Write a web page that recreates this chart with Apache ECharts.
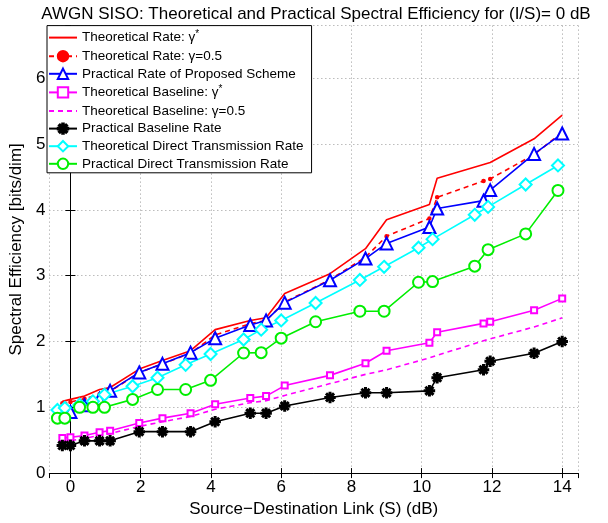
<!DOCTYPE html>
<html>
<head>
<meta charset="utf-8">
<script src="https://cdn.jsdelivr.net/npm/echarts@6/dist/echarts.min.js"></script>
<style>
  body { margin: 0; background: #fff; }
  #chart { width: 608px; height: 523px; }
</style>
</head>
<body>
<div id="chart"></div>
<script>
// S (dB) for the relay / baseline curves and for the direct-transmission curves
var snrRelay  = [-0.23, 0, 0.4, 0.83, 1.13, 1.96, 2.62, 3.42, 4.12, 5.12, 5.57, 6.1, 7.39, 8.4, 9.0, 10.22, 10.44, 11.76, 11.95, 13.2, 14.0];
var snrDirect = [-0.37, -0.16, 0.26, 0.64, 0.97, 1.77, 2.48, 3.28, 3.99, 4.93, 5.43, 6.0, 6.98, 8.24, 8.93, 9.91, 10.31, 11.51, 11.89, 12.96, 13.88];

var theoRateOpt  = [1.09, 1.12, 1.17, 1.27, 1.30, 1.58, 1.71, 1.86, 2.18, 2.32, 2.36, 2.73, 3.03, 3.41, 3.85, 4.08, 4.48, 4.69, 4.72, 5.08, 5.44];
var theoRateHalf = [1.06, 1.08, 1.13, 1.20, 1.24, 1.53, 1.66, 1.82, 2.10, 2.27, 2.32, 2.60, 2.94, 3.28, 3.60, 3.87, 4.19, 4.44, 4.47, 4.84, 5.18];
var practRate    = [0.88, 0.93, 1.03, 1.13, 1.25, 1.53, 1.66, 1.83, 2.05, 2.25, 2.32, 2.59, 2.93, 3.26, 3.49, 3.74, 4.02, 4.14, 4.30, 4.85, 5.16];
var theoBaseOpt  = [0.535, 0.545, 0.57, 0.62, 0.645, 0.76, 0.835, 0.91, 1.045, 1.14, 1.17, 1.33, 1.485, 1.67, 1.86, 1.98, 2.14, 2.275, 2.30, 2.475, 2.655];
var theoBaseHalf = [0.47, 0.49, 0.53, 0.57, 0.60, 0.71, 0.78, 0.86, 0.97, 1.07, 1.10, 1.18, 1.36, 1.50, 1.57, 1.75, 1.79, 2.01, 2.04, 2.22, 2.36];
var practBase    = [0.42, 0.42, 0.49, 0.49, 0.49, 0.63, 0.63, 0.63, 0.78, 0.91, 0.91, 1.02, 1.15, 1.22, 1.22, 1.25, 1.45, 1.57, 1.70, 1.82, 2.00];
var theoDirect   = [0.96, 0.99, 1.04, 1.09, 1.19, 1.32, 1.45, 1.645, 1.81, 2.03, 2.18, 2.32, 2.585, 2.935, 3.135, 3.425, 3.555, 3.925, 4.045, 4.385, 4.675];
var practDirect  = [0.835, 0.835, 1.0, 1.0, 1.0, 1.12, 1.27, 1.27, 1.41, 1.825, 1.83, 2.05, 2.3, 2.46, 2.46, 2.9, 2.91, 3.145, 3.395, 3.635, 4.295];

var yTicks = [0, 1, 2, 3, 4, 5, 6];

var font = "'Liberation Sans', Arial, Helvetica, sans-serif";
// matlab style '*' marker
var asterisk = 'path://M0 8.5L20 8.5L20 11.5L0 11.5Z M8.5 0L11.5 0L11.5 20L8.5 20Z ' +
  'M1.94 4.06L4.06 1.94L18.06 15.94L15.94 18.06Z M15.94 1.94L18.06 4.06L4.06 18.06L1.94 15.94Z';

function zip(xs, ys) {
  return xs.map(function (x, i) { return [x, ys[i]]; });
}

function line(name, xs, ys, color, symbol, size, dashed) {
  return {
    name: name,
    type: 'line',
    data: zip(xs, ys),
    symbol: symbol,
    symbolSize: size,
    showSymbol: symbol !== 'none',
    lineStyle: { color: color, width: 1.6, type: dashed ? [5, 4] : 'solid' },
    itemStyle: { color: color, borderColor: color, borderWidth: 1.5 },
    emphasis: { disabled: true }
  };
}

var series = [
  line('Theoretical Rate: γ*', snrRelay, theoRateOpt, '#ff0000', 'none', 0, false),
  line('Theoretical Rate: γ=0.5', snrRelay, theoRateHalf, '#ff0000', 'circle', 3, true),
  line('Practical Rate of Proposed Scheme', snrRelay, practRate, '#0000ff', 'emptyTriangle', 12, false),
  line('Theoretical Baseline: γ*', snrRelay, theoBaseOpt, '#ff00ff', 'emptyRect', 6, false),
  line('Theoretical Baseline: γ=0.5', snrRelay, theoBaseHalf, '#ff00ff', 'none', 0, true),
  line('Practical Baseline Rate', snrRelay, practBase, '#000000', asterisk, 10, false),
  line('Theoretical Direct Transmission Rate', snrDirect, theoDirect, '#00ffff', 'emptyDiamond', 12, false),
  line('Practical Direct Transmission Rate', snrDirect, practDirect, '#00ee00', 'emptyCircle', 11, false)
];

// legend entries: hide the marker for the plain-line series
var legendData = series.map(function (s) {
  var item = { name: s.name };
  if (s.symbol === 'none') {
    item.itemStyle = { color: 'rgba(0,0,0,0)', borderColor: 'rgba(0,0,0,0)', borderWidth: 0, opacity: 0 };
  }
  return item;
});

var chart = echarts.init(document.getElementById('chart'));

chart.setOption({
  animation: false,
  textStyle: { fontFamily: font },
  title: {
    text: 'AWGN SISO: Theoretical and Practical Spectral Efficiency for (I/S)= 0 dB',
    left: 311,
    textAlign: 'center',
    top: 1,
    textStyle: { fontSize: 17, fontWeight: 'normal', color: '#000', fontFamily: font }
  },
  grid: { left: 46, right: 30, top: 25.6, bottom: 44, containLabel: false },
  legend: {
    data: legendData,
    orient: 'vertical',
    left: 47,
    top: 25.6,
    itemWidth: 28,
    itemHeight: 13,
    itemGap: 3.6,
    padding: [4, 8, 2, 1],
    backgroundColor: '#fff',
    borderColor: '#000',
    borderWidth: 1,
    borderRadius: 0,
    z: 10,
    formatter: function (name) {
      if (name.slice(-2) === 'γ*') {
        return '{a|' + name.slice(0, -1) + '}{s|*}';
      }
      return '{a|' + name + '}';
    },
    textStyle: {
      fontFamily: font,
      color: '#000',
      rich: {
        a: { fontSize: 13.5, lineHeight: 15, fontFamily: font, color: '#000' },
        s: { fontSize: 10, lineHeight: 15, padding: [0, 0, 6, 0], fontFamily: font, color: '#000' }
      }
    }
  },
  xAxis: [{
    type: 'value',
    min: -0.6,
    max: 14.45,
    splitNumber: 8,
    name: 'Source\u2212Destination Link (S) (dB)',
    nameLocation: 'middle',
    nameGap: 16,
    nameTextStyle: { fontSize: 17, color: '#000', fontFamily: font },
    axisLine: { lineStyle: { color: '#000', width: 1 } },
    axisTick: { inside: true, length: 5, lineStyle: { color: '#000' } },
    axisLabel: { fontSize: 17, color: '#000', margin: 6, showMinLabel: false, showMaxLabel: false },
    splitLine: { show: true, lineStyle: { color: '#9a9a9a', type: [1, 3] } }
  }, {
    type: 'value',
    position: 'top',
    min: -0.6,
    max: 14.45,
    splitNumber: 8,
    axisLine: { lineStyle: { color: '#000', width: 1 } },
    axisTick: { inside: true, length: 5, lineStyle: { color: '#000' } },
    axisLabel: { show: false },
    splitLine: { show: false }
  }],
  yAxis: [{
    type: 'value',
    min: yTicks[0],
    max: 6.8,
    interval: 1,
    name: 'Spectral Efficiency [bits/dim]',
    nameLocation: 'middle',
    nameGap: 21,
    nameTextStyle: { fontSize: 17, color: '#000', fontFamily: font },
    axisLine: { lineStyle: { color: '#000', width: 1 } },
    axisTick: { inside: true, length: 5, lineStyle: { color: '#000' } },
    axisLabel: { fontSize: 17, color: '#000', margin: 4, showMaxLabel: false },
    splitLine: { show: true, lineStyle: { color: '#9a9a9a', type: [1, 3] } }
  }, {
    type: 'value',
    position: 'right',
    min: yTicks[0],
    max: 6.8,
    interval: 1,
    axisLine: { show: true, lineStyle: { color: '#000', width: 1 } },
    axisTick: { show: true, inside: true, length: 5, lineStyle: { color: '#000' } },
    axisLabel: { show: false },
    splitLine: { show: false }
  }],
  series: series
});
</script>
</body>
</html>
